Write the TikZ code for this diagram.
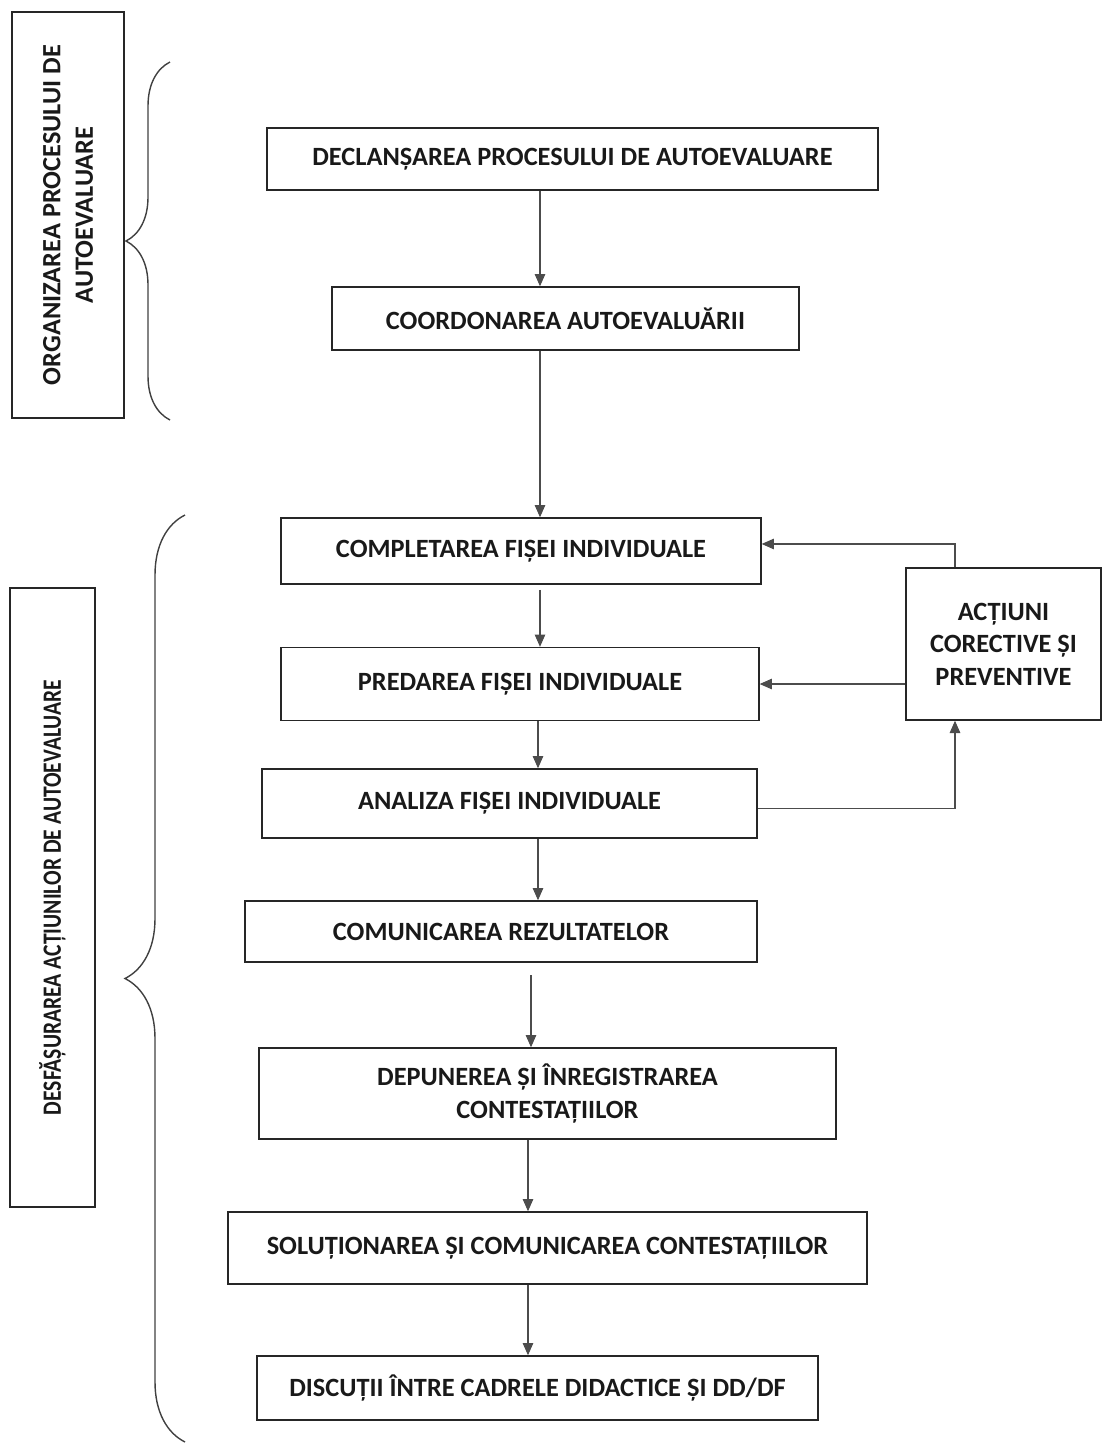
\documentclass[tikz,border=0pt]{standalone}
\usepackage{fontspec}
\setmainfont{Carlito}
\usetikzlibrary{positioning, arrows.meta, decorations.pathreplacing}

\begin{document}
\begin{tikzpicture}[
    x=0.02cm, y=-0.02cm,
    box/.style={rectangle, draw=black!85, line width=0.8pt, align=center,
                font=\fontsize{15}{18.5}\selectfont\bfseries, text=black!90},
    sidebox/.style={box, rotate=90},
    arrow/.style={-{Triangle[length=7pt, width=6pt]}, line width=0.6pt, draw=black!70},
    curly/.style={decorate, decoration={brace, amplitude=#1}, line width=0.8pt, draw=black!75}
]
    \useasboundingbox (0,0) rectangle (1102,1445);

    % Side labels
    \node[sidebox, minimum width=8.12cm, minimum height=2.24cm] (organizare) at (68,215)
        {ORGANIZAREA PROCESULUI DE\\AUTOEVALUARE};
    \node[sidebox, minimum width=12.38cm, minimum height=1.7cm] (desfasurare) at (52.5,897.5)
        {\scalebox{0.82}[1]{DESFĂȘURAREA ACȚIUNILOR DE AUTOEVALUARE}};

    % Braces
    \draw[curly=0.88cm] (170,420) -- (170,62);
    \draw[curly=1.2cm] (185,1442) -- (185,515);

    % Organization steps
    \node[box, minimum width=12.22cm, minimum height=1.24cm] (declansare) at (572.5,159)
        {DECLANȘAREA PROCESULUI DE AUTOEVALUARE};
    \node[box, minimum width=9.34cm, minimum height=1.26cm] (coordonare) at (565.5,318.5)
        {COORDONAREA AUTOEVALUĂRII};

    % Self-evaluation steps
    \node[box, minimum width=9.6cm, minimum height=1.32cm] (completare) at (521,551)
        {COMPLETAREA FIȘEI INDIVIDUALE};
    \node[box, minimum width=9.56cm, minimum height=1.46cm] (predare) at (520,684)
        {PREDAREA FIȘEI INDIVIDUALE};
    \node[box, minimum width=9.9cm, minimum height=1.38cm] (analiza) at (509.5,803.5)
        {ANALIZA FIȘEI INDIVIDUALE};
    \node[box, minimum width=10.24cm, minimum height=1.22cm] (comunicare) at (501,931.5)
        {COMUNICAREA REZULTATELOR};
    \node[box, minimum width=11.54cm, minimum height=1.82cm] (depunere) at (547.5,1093.5)
        {DEPUNEREA ȘI ÎNREGISTRAREA\\CONTESTAȚIILOR};
    \node[box, minimum width=12.78cm, minimum height=1.44cm] (solutionare) at (547.5,1248)
        {SOLUȚIONAREA ȘI COMUNICAREA CONTESTAȚIILOR};
    \node[box, minimum width=11.22cm, minimum height=1.28cm] (discutii) at (537.5,1388)
        {DISCUȚII ÎNTRE CADRELE DIDACTICE ȘI DD/DF};

    % Corrective actions
    \node[box, minimum width=3.9cm, minimum height=3.04cm] (actiuni) at (1003.5,644)
        {ACȚIUNI\\CORECTIVE ȘI\\PREVENTIVE};

    % Columns for the arrows
    \coordinate (colA) at (540,0);
    \coordinate (colB) at (538,0);
    \coordinate (colC) at (531,0);
    \coordinate (colD) at (528,0);
    \coordinate (loopx) at (955,0);

    % Main flow
    \draw[arrow] (declansare.south -| colA) -- (coordonare.north -| colA);
    \draw[arrow] (coordonare.south -| colA) -- (completare.north -| colA);
    \draw[arrow, shorten <=3pt] (completare.south -| colA) -- (predare.north -| colA);
    \draw[arrow] (predare.south -| colB) -- (analiza.north -| colB);
    \draw[arrow] (analiza.south -| colB) -- (comunicare.north -| colB);
    \draw[arrow, shorten <=7pt] (comunicare.south -| colC) -- (depunere.north -| colC);
    \draw[arrow] (depunere.south -| colD) -- (solutionare.north -| colD);
    \draw[arrow] (solutionare.south -| colD) -- (discutii.north -| colD);

    % Feedback loop
    \draw[arrow] (actiuni.north -| loopx) |- ([yshift=4pt]completare.east);
    \draw[arrow] (predare.east -| actiuni.west) -- (predare.east);
    \draw[arrow] ([yshift=-3pt]analiza.east) -| (actiuni.south -| loopx);

\end{tikzpicture}
\end{document}
